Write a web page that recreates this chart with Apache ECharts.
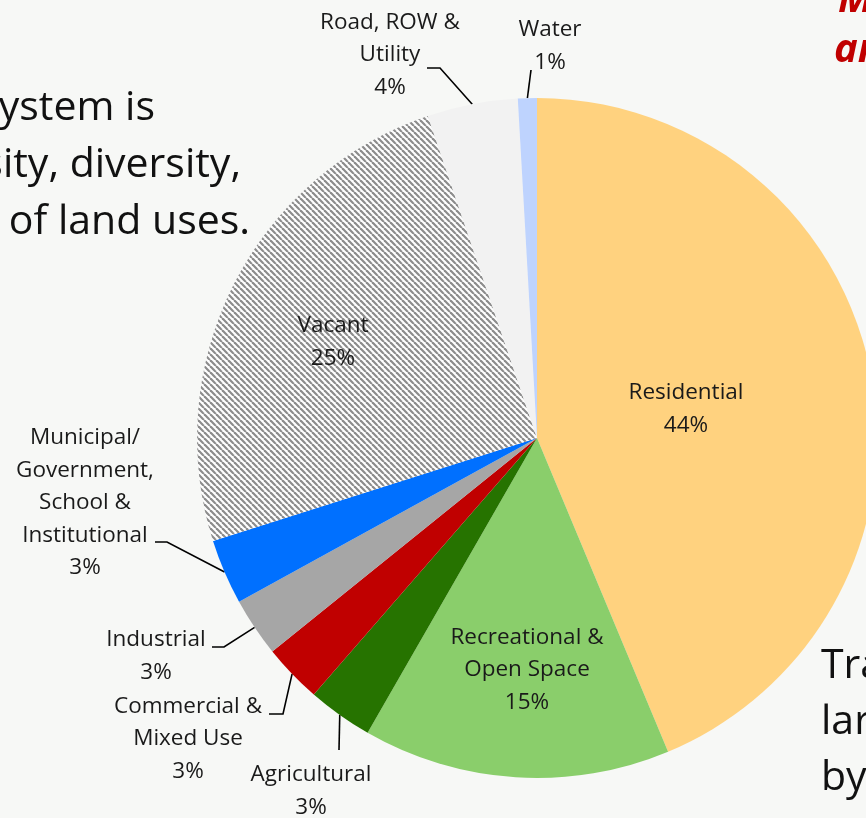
<!DOCTYPE html>
<html>
<head>
<meta charset="utf-8">
<script src="https://cdn.jsdelivr.net/npm/echarts@6/dist/echarts.min.js"></script>
<style>
  html, body { margin: 0; padding: 0; background: #F7F8F6; }
  #chart { width: 866px; height: 818px; }
</style>
</head>
<body>
<div id="chart"></div>
<script>
// ---- data ----
const categories = [
  'Residential',
  'Recreational &\nOpen Space',
  'Agricultural',
  'Commercial &\nMixed Use',
  'Industrial',
  'Municipal/\nGovernment,\nSchool &\nInstitutional',
  'Vacant',
  'Road, ROW &\nUtility',
  'Water'
];
const shares = [43.7, 14.6, 3.1, 2.8, 2.8, 3.1, 24.7, 4.3, 0.9];
const shownPercent = [44, 15, 3, 3, 3, 3, 25, 4, 1];

// ---- styles / layout ----
const sliceColors = ['#FFD27F', '#8ACE6B', '#267300', '#C00000', '#A6A6A6', '#0070FF', 'HATCH', '#F2F2F2', '#BED3FE'];
const insideSlices = [true, true, false, false, false, false, true, false, false];
const labelPos = [
  [686, 409], [527, 670], [311, 791], [188, 739], [156, 656],
  [85, 503], [333, 342], [390, 55], [550, 46]
];
const leaderPts = [
  null, null,
  [[339, 750], [339, 750]],
  [[283, 714], [269, 714]],
  [[224, 647], [212, 647]],
  [[167, 542], [155, 542]],
  null,
  [[440, 68], [427, 68]],
  [[531, 70], [531, 70]]
];

function makeHatch() {
  const c = document.createElement('canvas');
  const n = 6;
  c.width = n; c.height = n;
  const ctx = c.getContext('2d');
  ctx.fillStyle = '#FFFFFF';
  ctx.fillRect(0, 0, n, n);
  ctx.strokeStyle = '#8C8C8C';
  ctx.lineWidth = 2.2;
  for (let k = -1; k <= 1; k++) {
    ctx.beginPath();
    ctx.moveTo(k * n, 0);
    ctx.lineTo(k * n + n, n);
    ctx.stroke();
  }
  return c;
}
const hatch = makeHatch();

const FONT = '"Open Sans", "Noto Sans", sans-serif';

const pieData = categories.map((name, i) => {
  const item = {
    name: name,
    value: shares[i],
    itemStyle: { color: sliceColors[i] === 'HATCH' ? { image: hatch, repeat: 'repeat' } : sliceColors[i] }
  };
  if (insideSlices[i]) {
    item.label = { position: 'inside' };
    item.labelLine = { show: false };
  } else {
    item.label = { position: 'outside' };
    item.labelLine = { show: true };
  }
  return item;
});

const chart = echarts.init(document.getElementById('chart'), null, { renderer: 'canvas' });

const option = {
  backgroundColor: '#F7F8F6',
  animation: false,
  graphic: [
    { type: 'text', left: null, x: 155, y: 108, style: { text: 'ystem is', font: '41px ' + FONT, fill: '#111111', textAlign: 'right', textVerticalAlign: 'middle' } },
    { type: 'text', x: 241, y: 165, style: { text: 'sity, diversity,', font: '41px ' + FONT, fill: '#111111', textAlign: 'right', textVerticalAlign: 'middle' } },
    { type: 'text', x: 250, y: 222, style: { text: 'of land uses.', font: '41px ' + FONT, fill: '#111111', textAlign: 'right', textVerticalAlign: 'middle' } },
    { type: 'text', x: 838, y: 1, style: { text: 'M', font: 'italic bold 40px ' + FONT, fill: '#C00000', textAlign: 'left', textVerticalAlign: 'middle' } },
    { type: 'text', x: 834, y: 51, style: { text: 'ar', font: 'italic bold 40px ' + FONT, fill: '#C00000', textAlign: 'left', textVerticalAlign: 'middle' } },
    { type: 'text', x: 821, y: 666, style: { text: 'Tra', font: '41px ' + FONT, fill: '#111111', textAlign: 'left', textVerticalAlign: 'middle' } },
    { type: 'text', x: 821, y: 722, style: { text: 'lar', font: '41px ' + FONT, fill: '#111111', textAlign: 'left', textVerticalAlign: 'middle' } },
    { type: 'text', x: 821, y: 778, style: { text: 'by', font: '41px ' + FONT, fill: '#111111', textAlign: 'left', textVerticalAlign: 'middle' } }
  ],
  series: [{
    type: 'pie',
    center: [537, 438],
    radius: [0, 340],
    startAngle: 90,
    clockwise: true,
    avoidLabelOverlap: false,
    silent: true,
    itemStyle: { borderWidth: 0 },
    label: {
      show: true,
      color: '#1A1A1A',
      fontFamily: FONT,
      fontSize: 22.5,
      lineHeight: 32.5,
      align: 'center',
      width: 260,
      overflow: 'none',
      formatter: function (p) { return p.name + '\n' + shownPercent[p.dataIndex] + '%'; }
    },
    labelLine: {
      show: true,
      length: 20,
      length2: 10,
      smooth: false,
      lineStyle: { color: '#000000', width: 1.6 }
    },
    labelLayout: function (params) {
      const i = params.dataIndex;
      const p = labelPos[i];
      const out = { x: p[0], y: p[1], align: 'center', verticalAlign: 'middle', hideOverlap: false, moveOverlap: null };
      if (leaderPts[i] && params.labelLinePoints) {
        const s = params.labelLinePoints[0];
        out.labelLinePoints = [[s[0], s[1]], leaderPts[i][0], leaderPts[i][1]];
      }
      return out;
    },
    data: pieData
  }]
};
chart.setOption(option);
</script>
</body>
</html>
